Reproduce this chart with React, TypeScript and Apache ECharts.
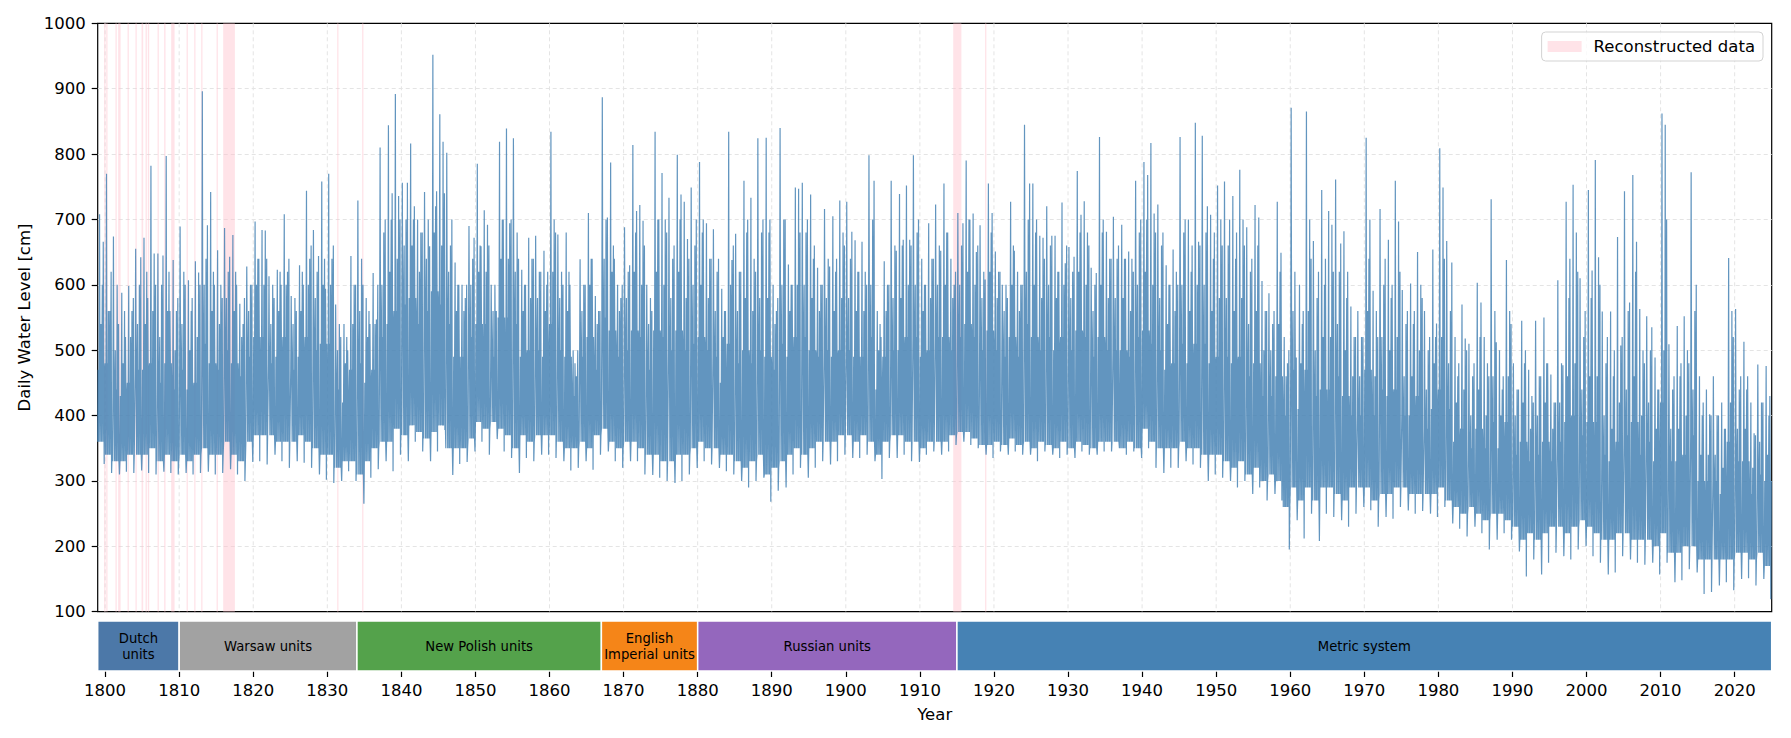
import React, { useEffect, useRef } from 'react';
import * as echarts from 'echarts';

// ---------- axes ----------
const X_MIN = 1799;
const X_MAX = 2025;
const YEAR_TICKS = [1800, 1810, 1820, 1830, 1840, 1850, 1860, 1870, 1880, 1890, 1900, 1910, 1920, 1930, 1940, 1950, 1960, 1970, 1980, 1990, 2000, 2010, 2020];
const Y_MIN = 100;
const Y_MAX = 1000;
const Y_STEP = 100;

// ---------- water level (cm), one entry per year 1799 ... 2024 ----------
const FIRST_YEAR = 1799;
// highest spike of each year
const ANNUAL_MAX = [
  708,
  770, 674, 588, 598, 655, 672, 782, 648, 797, 638,
  689, 607, 636, 896, 742, 653, 687, 676, 571, 628,
  697, 684, 613, 623, 708, 583, 630, 744, 684, 758,
  770, 570, 540, 644, 729, 580, 618, 810, 844, 892,
  756, 816, 700, 742, 952, 861, 802, 634, 600, 690,
  785, 714, 600, 819, 839, 824, 623, 672, 675, 652,
  834, 677, 680, 500, 639, 710, 583, 887, 787, 600,
  688, 814, 722, 600, 834, 771, 733, 799, 727, 749,
  788, 694, 685, 594, 834, 678, 759, 733, 824, 825,
  600, 840, 631, 749, 756, 738, 626, 716, 705, 729,
  727, 668, 666, 798, 560, 636, 759, 739, 752, 798,
  640, 694, 723, 755, 640, 710, 790, 709, 691, 755,
  651, 600, 727, 620, 845, 755, 675, 720, 675, 726,
  658, 774, 728, 626, 826, 681, 704, 692, 651, 759,
  788, 817, 723, 630, 654, 826, 700, 848, 828, 707,
  752, 758, 736, 776, 688, 722, 606, 587, 727, 520,
  871, 600, 865, 667, 745, 713, 761, 682, 567, 560,
  825, 591, 716, 669, 759, 592, 602, 650, 560, 654,
  809, 667, 520, 570, 510, 603, 520, 731, 500, 638,
  480, 545, 470, 545, 550, 463, 607, 727, 753, 610,
  745, 791, 559, 559, 673, 743, 768, 563, 552, 489,
  862, 509, 537, 552, 772, 460, 440, 460, 420, 641,
  563, 513, 420, 478, 476,
];
// second visible spike of each year
const SECOND_PEAK = [
  666,
  560, 540, 520, 560, 642, 580, 648, 645, 560, 560,
  600, 580, 619, 691, 600, 600, 643, 600, 540, 600,
  640, 683, 580, 600, 620, 560, 600, 640, 644, 594,
  640, 520, 500, 600, 600, 540, 547, 700, 740, 736,
  756, 720, 680, 659, 743, 819, 700, 600, 580, 672,
  659, 692, 560, 700, 694, 640, 600, 640, 620, 620,
  700, 600, 600, 460, 600, 640, 560, 703, 640, 580,
  630, 713, 698, 560, 700, 700, 660, 738, 670, 700,
  700, 640, 640, 560, 638, 620, 700, 640, 700, 700,
  560, 700, 600, 747, 700, 660, 600, 628, 640, 680,
  681, 620, 620, 759, 520, 600, 652, 669, 669, 700,
  600, 640, 652, 680, 600, 694, 700, 650, 608, 710,
  620, 580, 652, 600, 755, 700, 672, 675, 620, 633,
  643, 707, 680, 618, 700, 640, 660, 640, 640, 700,
  768, 709, 680, 600, 620, 700, 660, 666, 720, 680,
  700, 700, 680, 700, 640, 703, 560, 560, 649, 480,
  489, 560, 700, 620, 640, 692, 663, 620, 520, 520,
  700, 560, 640, 600, 697, 560, 560, 600, 520, 541,
  749, 634, 480, 518, 480, 573, 480, 512, 460, 560,
  440, 500, 430, 460, 480, 420, 477, 640, 680, 560,
  622, 642, 520, 500, 507, 573, 666, 500, 535, 440,
  845, 460, 480, 500, 600, 420, 402, 400, 380, 560,
  460, 460, 373, 420, 430,
];
// third, smaller spike of each year
const THIRD_PEAK = [
  600,
  620, 600, 560, 580, 600, 620, 600, 600, 620, 580,
  620, 560, 600, 640, 620, 580, 620, 620, 580, 600,
  640, 640, 600, 620, 640, 580, 620, 660, 620, 640,
  660, 540, 520, 600, 640, 560, 600, 680, 700, 700,
  700, 700, 680, 700, 720, 740, 660, 600, 600, 640,
  660, 660, 600, 700, 700, 680, 600, 640, 620, 600,
  680, 620, 620, 500, 600, 640, 560, 700, 660, 600,
  620, 680, 660, 580, 700, 680, 640, 700, 640, 660,
  680, 640, 620, 560, 660, 620, 680, 620, 680, 680,
  580, 700, 600, 680, 680, 640, 600, 640, 620, 660,
  640, 620, 600, 700, 540, 600, 660, 660, 660, 680,
  600, 640, 660, 680, 620, 660, 700, 660, 620, 680,
  620, 600, 660, 600, 700, 680, 640, 660, 620, 660,
  620, 680, 660, 600, 680, 640, 640, 640, 620, 680,
  700, 680, 660, 600, 600, 680, 620, 660, 680, 640,
  660, 660, 640, 660, 620, 660, 560, 540, 620, 500,
  620, 540, 640, 580, 600, 620, 620, 580, 520, 520,
  640, 520, 600, 580, 620, 540, 540, 580, 500, 520,
  640, 560, 460, 500, 460, 520, 460, 560, 440, 540,
  440, 480, 420, 460, 480, 420, 480, 580, 620, 520,
  580, 600, 480, 460, 520, 560, 620, 480, 500, 440,
  700, 440, 460, 480, 560, 400, 400, 400, 380, 520,
  440, 440, 370, 420, 400,
];
// frequent smaller rises above the dense band of each year
const BAND_UPPER = [
  540,
  560, 500, 480, 520, 540, 540, 560, 520, 560, 500,
  540, 500, 520, 600, 560, 540, 580, 560, 520, 560,
  600, 600, 540, 560, 600, 540, 560, 600, 580, 600,
  600, 500, 480, 540, 560, 520, 540, 600, 620, 640,
  660, 660, 620, 640, 680, 660, 620, 560, 560, 600,
  620, 620, 560, 640, 640, 620, 560, 580, 580, 560,
  620, 580, 560, 480, 560, 600, 540, 640, 620, 560,
  580, 620, 600, 540, 620, 600, 580, 620, 580, 600,
  600, 580, 560, 520, 600, 560, 580, 560, 580, 580,
  540, 600, 560, 600, 600, 580, 560, 580, 560, 580,
  580, 560, 560, 600, 500, 560, 580, 580, 600, 600,
  560, 580, 600, 600, 580, 600, 620, 600, 580, 620,
  580, 560, 600, 560, 620, 600, 580, 600, 580, 600,
  580, 620, 600, 560, 600, 580, 580, 580, 560, 600,
  620, 600, 580, 540, 560, 600, 560, 600, 600, 560,
  580, 580, 560, 580, 540, 560, 500, 500, 540, 460,
  560, 480, 560, 500, 520, 520, 540, 500, 460, 460,
  560, 460, 520, 500, 520, 460, 460, 500, 440, 480,
  520, 480, 420, 440, 400, 440, 400, 460, 400, 460,
  400, 420, 380, 400, 420, 380, 420, 460, 480, 440,
  460, 460, 400, 380, 420, 440, 460, 400, 420, 380,
  500, 380, 380, 400, 440, 340, 340, 340, 320, 420,
  380, 380, 320, 360, 340,
];
// top of the solid core of daily values of each year
const CORE_TOP = [
  470,
  480, 440, 430, 450, 470, 470, 480, 450, 480, 440,
  470, 440, 450, 510, 480, 470, 500, 480, 460, 490,
  520, 520, 480, 490, 520, 470, 490, 520, 500, 510,
  510, 440, 420, 470, 480, 450, 470, 520, 540, 560,
  570, 580, 540, 560, 590, 570, 540, 490, 490, 520,
  540, 540, 490, 550, 550, 540, 490, 500, 500, 490,
  540, 500, 490, 430, 490, 520, 470, 550, 530, 490,
  500, 530, 520, 470, 530, 520, 500, 530, 500, 510,
  520, 500, 490, 450, 510, 480, 500, 480, 500, 490,
  470, 510, 490, 520, 520, 500, 490, 500, 490, 500,
  500, 490, 490, 520, 440, 490, 500, 500, 520, 520,
  490, 500, 520, 520, 500, 520, 540, 520, 500, 530,
  500, 490, 520, 490, 540, 520, 500, 520, 500, 520,
  500, 530, 520, 490, 520, 500, 500, 500, 490, 520,
  530, 510, 500, 470, 480, 510, 480, 510, 510, 480,
  490, 490, 480, 490, 460, 480, 430, 430, 460, 400,
  470, 410, 470, 430, 440, 440, 460, 430, 400, 400,
  470, 400, 440, 430, 440, 400, 400, 430, 380, 410,
  440, 410, 360, 380, 350, 380, 350, 390, 350, 390,
  340, 360, 330, 340, 360, 330, 360, 390, 400, 370,
  390, 390, 340, 330, 360, 370, 390, 340, 360, 330,
  420, 330, 330, 340, 370, 300, 300, 300, 280, 360,
  330, 330, 280, 310, 300,
];
// lower edge of the dense daily band of each year
const BAND_LOWER = [
  360,
  340, 330, 330, 340, 340, 340, 350, 330, 340, 330,
  340, 330, 340, 350, 340, 340, 360, 340, 330, 360,
  370, 370, 370, 360, 360, 360, 370, 360, 350, 340,
  340, 320, 330, 330, 310, 330, 350, 360, 360, 380,
  370, 385, 375, 365, 375, 385, 350, 350, 350, 365,
  390, 380, 390, 380, 370, 350, 370, 360, 370, 370,
  370, 360, 350, 350, 360, 350, 370, 380, 360, 350,
  360, 360, 350, 340, 340, 330, 330, 340, 340, 350,
  360, 350, 350, 340, 340, 330, 320, 330, 340, 310,
  320, 330, 340, 350, 340, 350, 360, 360, 360, 370,
  370, 360, 370, 360, 340, 360, 370, 370, 360, 360,
  350, 360, 360, 360, 370, 375, 375, 365, 355, 355,
  360, 355, 365, 355, 360, 350, 360, 355, 350, 360,
  350, 360, 355, 350, 360, 360, 360, 350, 360, 350,
  380, 360, 350, 350, 350, 360, 350, 350, 340, 340,
  340, 330, 320, 330, 310, 320, 300, 310, 300, 260,
  290, 270, 290, 270, 290, 290, 280, 270, 290, 290,
  290, 270, 280, 280, 290, 290, 280, 280, 280, 280,
  290, 270, 260, 250, 260, 250, 240, 250, 250, 240,
  230, 210, 220, 210, 220, 230, 230, 220, 230, 240,
  230, 220, 210, 210, 220, 220, 210, 210, 210, 200,
  220, 190, 190, 200, 200, 180, 180, 180, 180, 180,
  190, 190, 180, 190, 170,
];
// lowest value of each year
const ANNUAL_MIN = [
  326,
  312, 310, 314, 312, 316, 312, 310, 314, 312, 310,
  312, 310, 312, 314, 310, 312, 318, 310, 300, 329,
  330, 325, 340, 330, 320, 330, 328, 320, 310, 302,
  297, 300, 315, 300, 265, 305, 318, 330, 315, 340,
  330, 360, 345, 330, 345, 378, 309, 326, 329, 345,
  360, 340, 364, 345, 335, 312, 335, 330, 340, 340,
  335, 330, 316, 320, 330, 317, 340, 345, 330, 320,
  330, 330, 310, 309, 305, 300, 297, 300, 310, 320,
  330, 325, 320, 315, 310, 300, 290, 300, 305, 268,
  285, 290, 310, 320, 305, 320, 330, 325, 330, 340,
  335, 335, 340, 330, 303, 335, 335, 340, 330, 329,
  340, 345, 340, 345, 355, 360, 355, 350, 340, 335,
  345, 340, 345, 340, 340, 330, 345, 340, 335, 340,
  335, 345, 340, 340, 345, 345, 350, 340, 345, 335,
  350, 320, 312, 320, 320, 330, 325, 320, 300, 310,
  305, 300, 290, 300, 280, 290, 270, 280, 270, 195,
  240, 212, 250, 208, 250, 245, 240, 230, 250, 260,
  255, 230, 245, 242, 260, 255, 250, 254, 250, 245,
  260, 235, 227, 215, 230, 220, 195, 210, 220, 210,
  192, 154, 180, 157, 175, 190, 185, 180, 195, 200,
  185, 175, 157, 160, 185, 180, 175, 172, 175, 157,
  175, 145, 148, 165, 160, 127, 130, 140, 145, 133,
  150, 151, 140, 150, 119,
];
// orders in which these values occur through a year (spring flood, summer flood, autumn low water), used in turn
const WITHIN_YEAR_ORDERS = [
  ['lower', 'core', 'lower', 'core', 'max', 'lower', 'core', 'upper', 'lower', 'core', 'peak3', 'lower', 'peak2', 'core', 'min', 'core'],
  ['core', 'lower', 'core', 'max', 'lower', 'core', 'lower', 'upper', 'core', 'lower', 'peak2', 'lower', 'core', 'peak3', 'min', 'lower'],
  ['lower', 'core', 'max', 'core', 'lower', 'core', 'upper', 'lower', 'core', 'lower', 'peak3', 'core', 'lower', 'peak2', 'lower', 'min'],
];

// ---------- reconstructed periods (decimal years) ----------
const RECON_START = [1799.87, 1800.15, 1801.40, 1801.76, 1803.03, 1804.10, 1804.92, 1805.46, 1805.77, 1807.08, 1807.97, 1808.92, 1811.00, 1812.03, 1812.97, 1815.05, 1815.94, 1831.33, 1834.70, 1914.50, 1918.80];
const RECON_END = [1799.92, 1800.20, 1801.45, 1802.09, 1803.08, 1804.15, 1805.14, 1805.50, 1805.82, 1807.13, 1808.16, 1809.38, 1811.13, 1812.08, 1813.02, 1815.10, 1817.52, 1831.38, 1834.75, 1915.60, 1918.85];

// ---------- measurement unit eras ----------
const UNIT_NAMES = ['Dutch\nunits', 'Warsaw units', 'New Polish units', 'English\nImperial units', 'Russian units', 'Metric system'];
const UNIT_START = [1799, 1810, 1834, 1867, 1880, 1915];
const UNIT_END = [1810, 1834, 1867, 1880, 1915, 2025];
const UNIT_COLORS = ['#4c78a8', '#a2a2a2', '#54a24b', '#f58518', '#9467bd', '#4682b4'];

const FONT = 'DejaVu Sans';
const PINK = 'rgba(255, 192, 203, 0.45)';

function buildLevels(): number[][] {
  const pts: number[][] = [];
  for (let i = 0; i < ANNUAL_MAX.length; i++) {
    const year = FIRST_YEAR + i;
    const order = WITHIN_YEAR_ORDERS[i % WITHIN_YEAR_ORDERS.length];
    const n = order.length;
    const v: Record<string, number> = {
      max: ANNUAL_MAX[i],
      peak2: SECOND_PEAK[i],
      peak3: THIRD_PEAK[i],
      upper: BAND_UPPER[i],
      core: CORE_TOP[i],
      lower: BAND_LOWER[i],
      min: ANNUAL_MIN[i],
    };
    for (let j = 0; j < n; j++) {
      pts.push([year + j / n, v[order[j]]]);
    }
  }
  return pts;
}

export default function App() {
  const ref = useRef<HTMLDivElement>(null);
  useEffect(() => {
    if (!ref.current) return;
    const chart = echarts.init(ref.current, undefined, { renderer: 'svg' });
    const levels = buildLevels();
    const plain = (v: number) => String(v);
    const option: any = {
      animation: false,
      backgroundColor: '#fff',
      textStyle: { fontFamily: FONT },
      grid: [
        { left: 97.7, top: 23.3, width: 1674, height: 588.4, show: true, borderColor: '#000', borderWidth: 1.2, backgroundColor: 'transparent' },
        { left: 97.7, top: 621, width: 1674, height: 50 },
      ],
      legend: {
        data: ['Reconstructed data'],
        right: 28,
        top: 32,
        icon: 'rect',
        itemWidth: 34,
        itemHeight: 11,
        padding: [6, 8, 6, 6],
        borderColor: '#d3d3d3',
        borderWidth: 1,
        borderRadius: 4,
        backgroundColor: 'rgba(255,255,255,0.8)',
        textStyle: { fontSize: 16.5, color: '#000', fontFamily: FONT, padding: [0, 0, 0, 7] },
      },
      xAxis: [
        {
          type: 'value', gridIndex: 0, min: X_MIN, max: X_MAX,
          axisLine: { show: false }, axisTick: { show: false }, axisLabel: { show: false }, splitLine: { show: false },
        },
        {
          type: 'value', gridIndex: 1, min: X_MIN, max: X_MAX,
          axisLine: { show: false },
          axisTick: { show: true, length: 6, lineStyle: { color: '#000', width: 1.2 }, customValues: YEAR_TICKS },
          axisLabel: { customValues: YEAR_TICKS, formatter: plain, fontSize: 16.5, color: '#000', margin: 11, fontFamily: FONT },
          splitLine: { show: false },
          name: 'Year', nameLocation: 'middle', nameGap: 35,
          nameTextStyle: { fontSize: 16.5, color: '#000', fontFamily: FONT },
        },
      ],
      yAxis: [
        {
          type: 'value', gridIndex: 0, min: Y_MIN, max: Y_MAX, interval: Y_STEP,
          axisLine: { show: false },
          axisTick: { show: true, length: 6, lineStyle: { color: '#000', width: 1.2 } },
          axisLabel: { formatter: plain, fontSize: 16.5, color: '#000', margin: 12, fontFamily: FONT },
          splitLine: { show: true, showMinLine: false, showMaxLine: false, lineStyle: { type: [4, 3], color: '#e4e4e4', width: 1 } },
          name: 'Daily Water Level [cm]', nameLocation: 'middle', nameGap: 57,
          nameTextStyle: { fontSize: 16.5, color: '#000', fontFamily: FONT },
        },
        { type: 'value', gridIndex: 1, min: 0, max: 1, show: false },
      ],
      series: [
        {
          type: 'custom', name: 'year grid', xAxisIndex: 0, yAxisIndex: 0, z: 1, silent: true,
          data: YEAR_TICKS.map((v) => [v]),
          encode: { x: 0 },
          renderItem: (params: any, api: any) => {
            const a = api.coord([api.value(0), Y_MAX]);
            const b = api.coord([api.value(0), Y_MIN]);
            return { type: 'line', shape: { x1: a[0], y1: a[1], x2: b[0], y2: b[1] }, style: { stroke: '#e4e4e4', lineWidth: 1, lineDash: [4, 3] } };
          },
        },
        {
          type: 'custom', name: 'Reconstructed data', xAxisIndex: 0, yAxisIndex: 0, z: 2, silent: true,
          itemStyle: { color: PINK },
          data: RECON_START.map((s, i) => [s, RECON_END[i]]),
          encode: { x: [0, 1] },
          renderItem: (params: any, api: any) => {
            const a = api.coord([api.value(0), Y_MAX]);
            const b = api.coord([api.value(1), Y_MIN]);
            const w = Math.max(b[0] - a[0], 1.3);
            return { type: 'rect', shape: { x: a[0], y: a[1], width: w, height: b[1] - a[1] }, style: { fill: PINK } };
          },
        },
        {
          type: 'line', name: 'Water level', xAxisIndex: 0, yAxisIndex: 0, z: 3,
          data: levels, showSymbol: false, symbol: 'none', silent: true,
          lineStyle: { color: '#4682b4', width: 1.2, opacity: 0.85 },
          itemStyle: { color: '#4682b4' },
        },
        {
          type: 'custom', name: 'units', xAxisIndex: 1, yAxisIndex: 1, silent: true,
          data: UNIT_START.map((s, i) => [s, UNIT_END[i]]),
          encode: { x: [0, 1] },
          renderItem: (params: any, api: any) => {
            const i = params.dataIndex;
            const a = api.coord([api.value(0), 1]);
            const b = api.coord([api.value(1), 0]);
            return {
              type: 'group',
              children: [
                { type: 'rect', shape: { x: a[0], y: a[1], width: b[0] - a[0], height: b[1] - a[1] }, style: { fill: UNIT_COLORS[i], stroke: '#fff', lineWidth: 1.5 } },
                {
                  type: 'text',
                  style: {
                    text: UNIT_NAMES[i], x: (a[0] + b[0]) / 2, y: (a[1] + b[1]) / 2,
                    align: 'center', verticalAlign: 'middle', fontSize: 13.2, lineHeight: 16, fill: '#000', fontFamily: FONT,
                  },
                },
              ],
            };
          },
        },
      ],
    };
    chart.setOption(option);
    return () => chart.dispose();
  }, []);
  return <div ref={ref} style={{ position: 'fixed', left: 0, top: 0, width: 1791, height: 738 }} />;
}
